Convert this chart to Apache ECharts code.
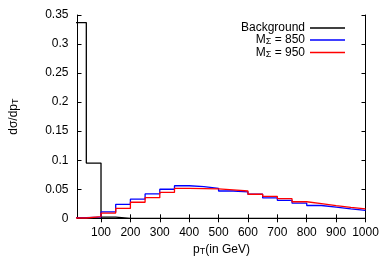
<!DOCTYPE html>
<html><head><meta charset="utf-8">
<script src="https://cdn.jsdelivr.net/npm/echarts@6/dist/echarts.min.js"></script>
<style>html,body{margin:0;padding:0;background:#fff}#c{width:389px;height:273px}</style>
</head><body><div id="c"></div>
<script>
const binEdges = [0,50,100,150,200,250,300,350,400,450,500,550,600,650,700,750,800,850,900,950];
const xEnd = 1000;
const background = [0.337,0.095,0.002,0,0,0,0,0,0,0,0,0,0,0,0,0,0,0,0,0];
const m850 = [0.001,0.002,0.011,0.024,0.033,0.042,0.050,0.056,0.0545,0.0515,0.047,0.0455,0.0414,0.035,0.031,0.026,0.022,0.0193,0.0163,0.0138];
const m950 = [0.0005,0.003,0.009,0.017,0.0276,0.0355,0.0445,0.0515,0.051,0.0505,0.0488,0.047,0.0414,0.0378,0.0338,0.0285,0.0253,0.022,0.0188,0.0163];
const xTicks = [100,200,300,400,500,600,700,800,900,1000];
const seriesNames = ['Background','M850','M950'];
const legendLabels = {
  'Background': '{n|Background}',
  'M850': '{n|M}{s|Σ}{n| = 850}',
  'M950': '{n|M}{s|Σ}{n| = 950}'
};
function steps(vals){
  const d = binEdges.map((e,i)=>[e, vals[i]]);
  d.push([xEnd, vals[vals.length-1]]);
  return d;
}
const font = 'Liberation Sans, Arial, sans-serif';
const rich = {
  n:{fontSize:12, fontFamily:font, color:'#000', lineHeight:13},
  s:{fontSize:9, fontFamily:font, color:'#000', lineHeight:5, verticalAlign:'bottom'}
};
const chart = echarts.init(document.getElementById('c'));
const axisLine = {show:true, lineStyle:{color:'#000', width:1}};
chart.setOption({
  animation:false,
  grid:{left:72, right:23.5, top:15, bottom:54.7},
  legend:{
    orient:'vertical', align:'right', right:39, top:17,
    itemWidth:35, itemHeight:1.5, itemGap:0, icon:'rect',
    data:seriesNames,
    formatter:n=>legendLabels[n],
    textStyle:{rich:rich}
  },
  xAxis:[{
    type:'value', min:20, max:1000, position:'bottom',
    axisLine:axisLine,
    axisTick:{show:true, inside:true, length:4, customValues:xTicks, lineStyle:{color:'#000'}},
    axisLabel:{customValues:xTicks, margin:8, fontSize:12, fontFamily:font, color:'#000', formatter:v=>String(v)},
    splitLine:{show:false},
    name:'{n|p}{s|T}{n|(in GeV)}', nameLocation:'middle', nameGap:25,
    nameTextStyle:{rich:rich}
  },{
    type:'value', min:20, max:1000, position:'top',
    axisLine:axisLine,
    axisTick:{show:true, inside:true, length:4, customValues:xTicks, lineStyle:{color:'#000'}},
    axisLabel:{show:false}, splitLine:{show:false}
  }],
  yAxis:[{
    type:'value', min:0, max:0.35, interval:0.05, position:'left',
    axisLine:axisLine,
    axisTick:{show:true, inside:true, length:4, lineStyle:{color:'#000'}},
    axisLabel:{margin:9, fontSize:12, fontFamily:font, color:'#000'},
    splitLine:{show:false},
    name:'{n|dσ/dp}{s|T}', nameLocation:'middle', nameGap:57, nameRotate:90,
    nameTextStyle:{rich:rich}
  },{
    type:'value', min:0, max:0.35, interval:0.05, position:'right',
    axisLine:axisLine,
    axisTick:{show:true, inside:true, length:4, lineStyle:{color:'#000'}},
    axisLabel:{show:false}, splitLine:{show:false}
  }],
  series:[
    {name:'Background', type:'line', step:'end', showSymbol:false, data:steps(background), color:'#000', lineStyle:{width:1.3, color:'#000'}},
    {name:'M850', type:'line', step:'end', showSymbol:false, data:steps(m850), color:'#0000ff', lineStyle:{width:1.3, color:'#0000ff'}},
    {name:'M950', type:'line', step:'end', showSymbol:false, data:steps(m950), color:'#ff0000', lineStyle:{width:1.3, color:'#ff0000'}}
  ]
});
</script></body></html>
